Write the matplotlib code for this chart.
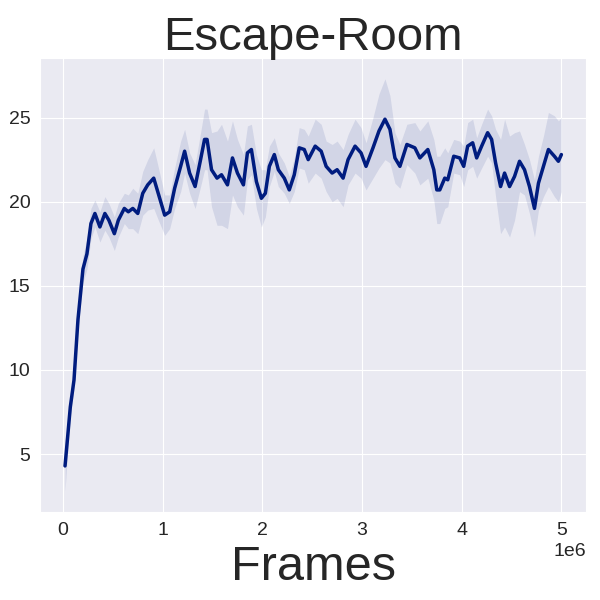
import numpy as np
import matplotlib.pyplot as plt
import seaborn as sns

sns.set_style("darkgrid")
plt.rcParams['font.family'] = ['Liberation Sans', 'DejaVu Sans']

# frames (in millions)
frames = [0.02, 0.04, 0.073, 0.11, 0.15, 0.2, 0.24, 0.28, 0.32, 0.37, 0.42, 0.46,
          0.515, 0.555, 0.615, 0.655, 0.70, 0.75, 0.80, 0.85, 0.91, 0.95, 1.02,
          1.07, 1.12, 1.18, 1.22, 1.27, 1.325, 1.38, 1.42, 1.445, 1.49, 1.545,
          1.59, 1.65, 1.70, 1.75, 1.81, 1.85, 1.89, 1.94, 1.99, 2.03, 2.07, 2.12,
          2.16, 2.22, 2.27, 2.32, 2.37, 2.42, 2.46, 2.53, 2.59, 2.64, 2.70, 2.75,
          2.81, 2.86, 2.93, 2.99, 3.04, 3.11, 3.17, 3.23, 3.28, 3.33, 3.38, 3.45,
          3.53, 3.58, 3.66, 3.72, 3.75, 3.78, 3.83, 3.86, 3.92, 3.98, 4.02, 4.06,
          4.11, 4.15, 4.20, 4.26, 4.30, 4.34, 4.39, 4.43, 4.48, 4.53, 4.58, 4.63,
          4.68, 4.73, 4.77, 4.82, 4.87, 4.93, 4.97, 5.0]
reward = [4.3, 5.6, 7.8, 9.4, 13.0, 16.0, 16.9, 18.7, 19.3, 18.5, 19.3, 18.9,
          18.1, 18.9, 19.6, 19.4, 19.6, 19.3, 20.5, 21.0, 21.4, 20.6, 19.2,
          19.4, 20.8, 22.1, 23.0, 21.7, 20.9, 22.5, 23.7, 23.7, 21.9, 21.4,
          21.6, 21.0, 22.6, 21.7, 21.0, 22.9, 23.1, 21.2, 20.2, 20.5, 22.1, 22.8,
          21.9, 21.4, 20.7, 21.6, 23.2, 23.1, 22.5, 23.3, 23.0, 22.1, 21.7, 21.9,
          21.4, 22.5, 23.3, 22.9, 22.1, 23.2, 24.2, 24.9, 24.3, 22.6, 22.1, 23.4,
          23.2, 22.6, 23.1, 21.9, 20.7, 20.7, 21.4, 21.3, 22.7, 22.6, 22.1, 23.3,
          23.5, 22.6, 23.3, 24.1, 23.7, 22.3, 20.9, 21.7, 20.9, 21.5, 22.4, 21.9,
          20.9, 19.6, 21.1, 22.1, 23.1, 22.7, 22.4, 22.8]
spread = [1.5, 1.0, 0.6, 0.5, 0.6, 0.8, 0.9, 0.9, 0.8, 0.9, 1.0, 1.0,
          1.0, 1.0, 0.9, 1.0, 1.2, 1.2, 1.3, 1.5, 1.8, 1.6, 1.2,
          1.0, 1.2, 1.5, 1.3, 1.2, 1.3, 1.6, 1.8, 1.8, 2.2, 2.8,
          3.0, 2.6, 2.2, 2.0, 1.8, 1.6, 1.5, 1.6, 1.7, 1.4, 1.2, 1.0,
          1.0, 0.9, 0.8, 1.0, 1.2, 1.2, 1.4, 1.6, 1.6, 1.5, 1.7, 1.7,
          1.7, 1.5, 1.6, 1.5, 1.4, 1.8, 2.2, 2.4, 2.0, 1.5, 1.3, 1.2,
          1.5, 1.6, 1.7, 1.8, 2.0, 2.0, 1.8, 1.6, 1.0, 1.0, 1.2, 1.4,
          1.4, 1.2, 1.3, 1.4, 1.4, 2.0, 2.8, 3.2, 3.0, 2.6, 1.8, 1.5,
          1.6, 1.7, 1.6, 1.8, 2.2, 2.4, 2.4, 2.2]

x = np.array(frames) * 1e6
y = np.array(reward)
s = np.array(spread)

fig, ax = plt.subplots(figsize=(6, 6), dpi=100)
fig.subplots_adjust(left=0.067, right=0.977, top=0.903, bottom=0.147)

line_color = '#001c7f'
ax.fill_between(x, y - s, y + s, color=line_color, alpha=0.1, linewidth=0)
ax.plot(x, y, color=line_color, linewidth=2.5)

ax.set_title("Escape-Room", fontsize=34, color='#262626')
ax.set_xlabel("Frames", fontsize=35, color='#262626', labelpad=5)
ax.tick_params(labelsize=14, colors='#262626')
ax.xaxis.get_offset_text().set_fontsize(14)
ax.set_yticks([5, 10, 15, 20, 25])

fig.savefig("out.png", dpi=100)
